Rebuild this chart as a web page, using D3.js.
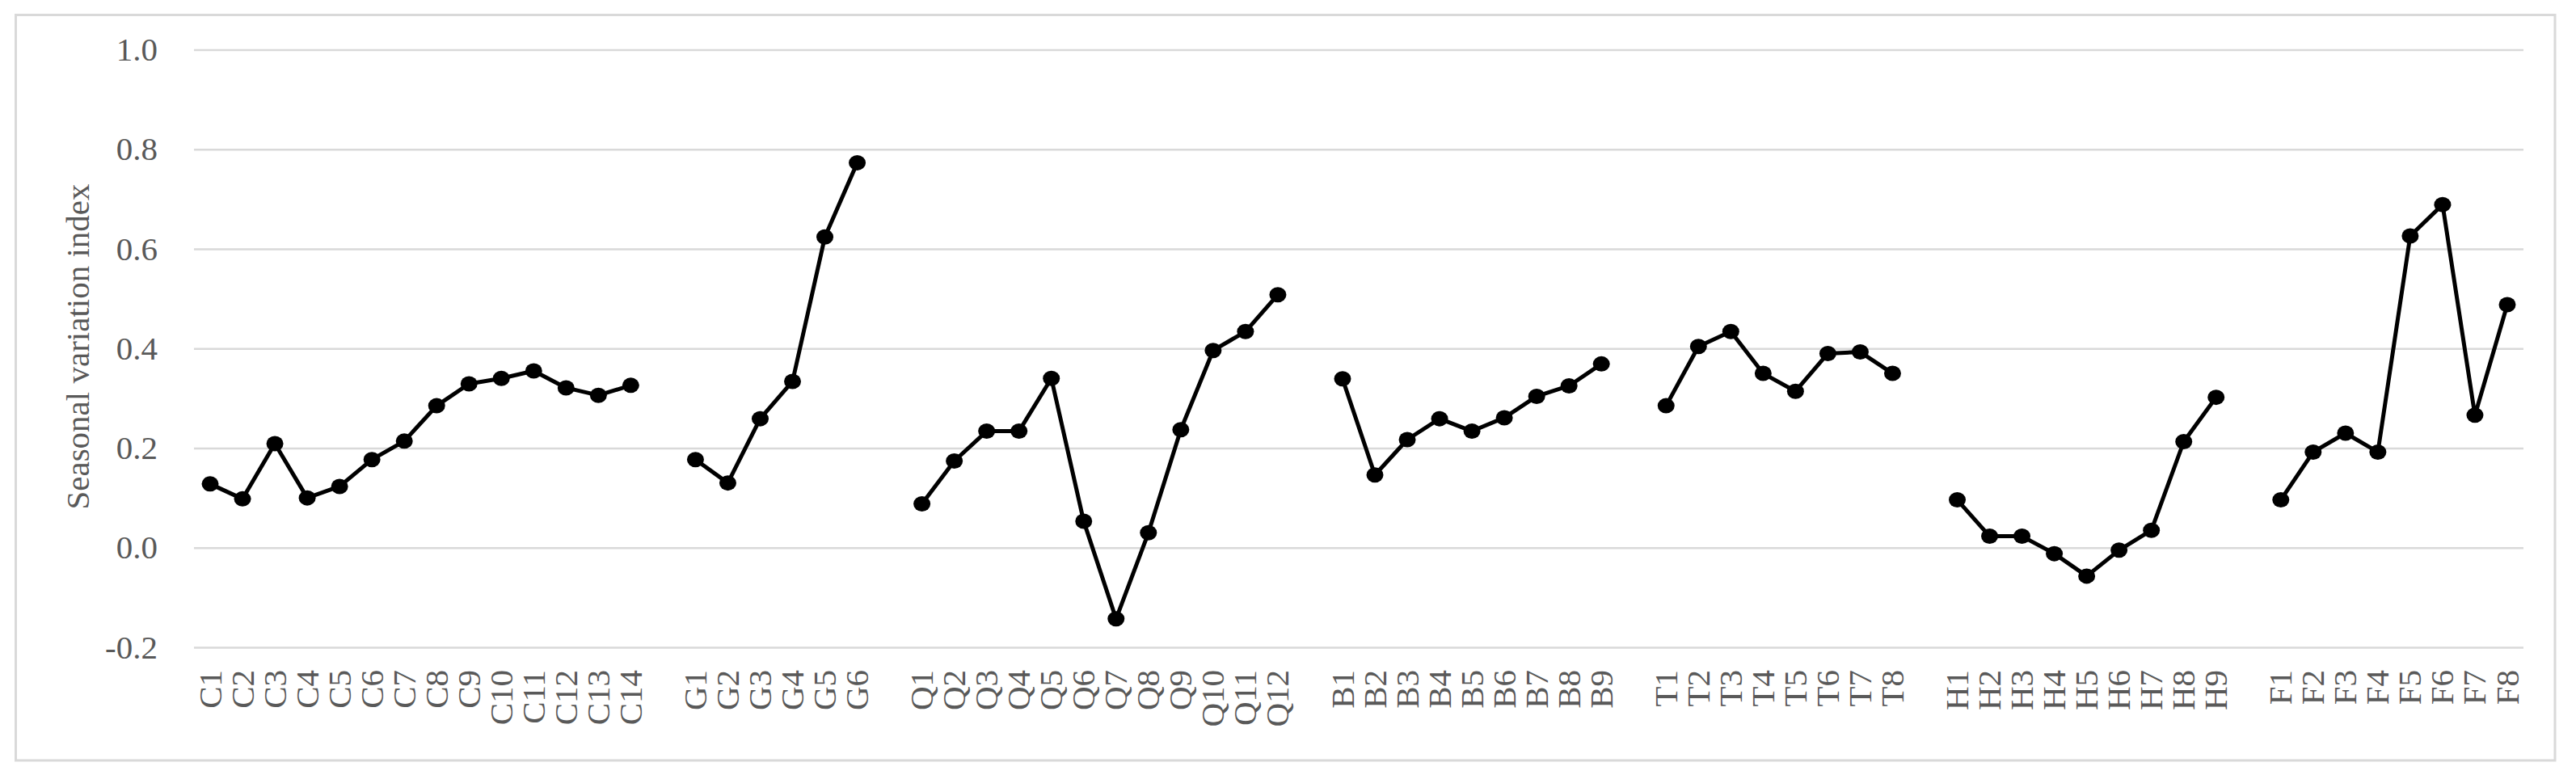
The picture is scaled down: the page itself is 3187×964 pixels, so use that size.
<!DOCTYPE html>
<html>
<head>
<meta charset="utf-8">
<script src="https://cdn.jsdelivr.net/npm/d3@7"></script>
<style>
  html, body { margin: 0; padding: 0; background: #ffffff; }
  svg { display: block; }
</style>
</head>
<body>
<svg id="chart" width="3187" height="964"></svg>
<script>
// ---- Data ----
const cLabels = ["C1","C2","C3","C4","C5","C6","C7","C8","C9","C10","C11","C12","C13","C14"];
const cValues = [0.128,0.098,0.209,0.100,0.123,0.177,0.214,0.285,0.329,0.340,0.355,0.321,0.306,0.326];

const gLabels = ["G1","G2","G3","G4","G5","G6"];
const gValues = [0.177,0.130,0.259,0.334,0.624,0.773];

const qLabels = ["Q1","Q2","Q3","Q4","Q5","Q6","Q7","Q8","Q9","Q10","Q11","Q12"];
const qValues = [0.088,0.174,0.234,0.234,0.340,0.053,-0.143,0.030,0.237,0.396,0.434,0.508];

const bLabels = ["B1","B2","B3","B4","B5","B6","B7","B8","B9"];
const bValues = [0.339,0.146,0.217,0.259,0.234,0.261,0.304,0.325,0.369];

const tLabels = ["T1","T2","T3","T4","T5","T6","T7","T8"];
const tValues = [0.285,0.404,0.434,0.350,0.314,0.390,0.393,0.350];

const hLabels = ["H1","H2","H3","H4","H5","H6","H7","H8","H9"];
const hValues = [0.096,0.023,0.023,-0.012,-0.057,-0.005,0.035,0.213,0.302];

const fLabels = ["F1","F2","F3","F4","F5","F6","F7","F8"];
const fValues = [0.096,0.192,0.230,0.192,0.626,0.689,0.266,0.488];

const yTicks = [-0.2, 0.0, 0.2, 0.4, 0.6, 0.8, 1.0];
const yTickLabels = ["-0.2", "0.0", "0.2", "0.4", "0.6", "0.8", "1.0"];
const yTitle = "Seasonal variation index";

const groups = [
  {labels: cLabels, values: cValues},
  {labels: gLabels, values: gValues},
  {labels: qLabels, values: qValues},
  {labels: bLabels, values: bValues},
  {labels: tLabels, values: tValues},
  {labels: hLabels, values: hValues},
  {labels: fLabels, values: fValues}
];

// ---- Layout ----
const W = 3187, H = 964;
const plotLeft = 240, plotRight = 3122, plotTop = 61.5, plotBottom = 801;
const font = "'Liberation Serif', 'Times New Roman', serif";
const textColor = "#595959";
const gridColor = "#d9d9d9";

// domain with one empty slot between groups
const domain = [];
groups.forEach((g, i) => {
  if (i > 0) domain.push("__gap" + i);
  g.labels.forEach(l => domain.push(l));
});

const x = d3.scaleBand().domain(domain).range([plotLeft, plotRight]).paddingInner(0).paddingOuter(0);
const xc = d => x(d) + x.bandwidth() / 2;
const y = d3.scaleLinear().domain([-0.2, 1.0]).range([plotBottom, plotTop]);

const svg = d3.select("#chart");

svg.append("rect").attr("x", 0).attr("y", 0).attr("width", W).attr("height", H).attr("fill", "#fff");

// outer border
svg.append("rect")
  .attr("x", 19.5).attr("y", 18.5)
  .attr("width", 3161 - 19.5).attr("height", 941 - 18.5)
  .attr("fill", "none").attr("stroke", gridColor).attr("stroke-width", 3);

// y axis: gridlines and labels
const yAxis = d3.axisLeft(y).tickValues(yTicks)
  .tickFormat((d, i) => yTickLabels[i])
  .tickSize(-(plotRight - plotLeft)).tickPadding(plotLeft - 195);
const yg = svg.append("g").attr("transform", `translate(${plotLeft},0)`).call(yAxis);
yg.select(".domain").remove();
yg.selectAll(".tick line").attr("stroke", gridColor).attr("stroke-width", 2.5);
yg.selectAll(".tick text")
  .attr("font-family", font).attr("font-size", 41).attr("fill", textColor);

// x axis labels
const xAxis = d3.axisBottom(x)
  .tickValues(domain.filter(d => !d.startsWith("__gap")))
  .tickSize(0).tickPadding(0);
const xg = svg.append("g").attr("transform", `translate(0,${plotBottom})`).call(xAxis);
xg.select(".domain").remove();
xg.selectAll(".tick text")
  .attr("font-family", font).attr("font-size", 41).attr("fill", textColor)
  .attr("text-anchor", "end")
  .attr("transform", "rotate(-90)")
  .attr("x", -28).attr("y", 0).attr("dy", "0.33em");

// y title
svg.append("text")
  .attr("transform", `translate(110,429) rotate(-90)`)
  .attr("text-anchor", "middle")
  .attr("font-family", font).attr("font-size", 41).attr("fill", textColor)
  .text(yTitle);

// lines and markers
const line = d3.line().x(d => xc(d.label)).y(d => y(d.value));
groups.forEach(g => {
  const pts = g.labels.map((l, i) => ({label: l, value: g.values[i]}));
  svg.append("path").datum(pts)
    .attr("d", line).attr("fill", "none")
    .attr("stroke", "#000").attr("stroke-width", 5).attr("stroke-linejoin", "round");
  svg.append("g").selectAll("ellipse").data(pts).join("ellipse")
    .attr("cx", d => xc(d.label)).attr("cy", d => y(d.value))
    .attr("rx", 10.5).attr("ry", 9.5).attr("fill", "#000");
});
</script>
</body>
</html>
